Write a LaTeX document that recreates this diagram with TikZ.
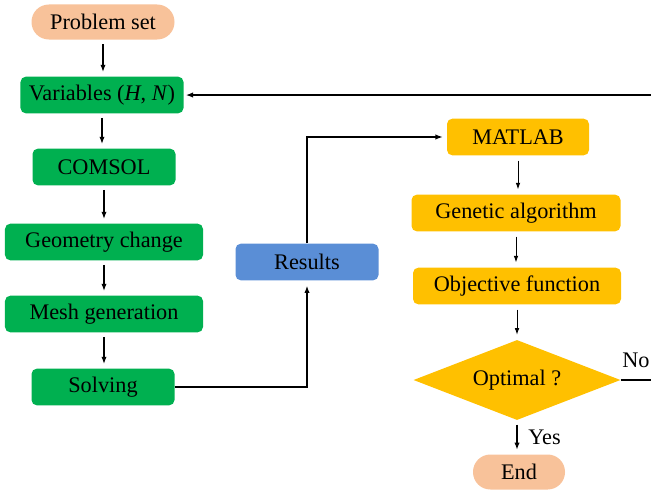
\documentclass[tikz,border=0pt]{standalone}
\usepackage{fontspec}
\setmainfont{Liberation Serif}
\usepackage{xcolor}
\usetikzlibrary{arrows.meta,positioning,calc,shapes.geometric}
\definecolor{peach}{HTML}{F8C29A}
\definecolor{leaf}{HTML}{00B050}
\definecolor{gold}{HTML}{FFC000}
\definecolor{sky}{HTML}{5A8ED6}
\tikzset{
  fx/.style={x=0.3mm, y=-0.3mm, font=\fontsize{19}{22}\selectfont},
  f box/.style={rounded corners=1.6mm, align=center, minimum height=11mm, inner sep=0.8mm},
  f end/.style={f box, fill=peach, rounded corners=5.2mm, minimum height=10.5mm},
  f step/.style={f box, fill=leaf},
  f res/.style={f box, fill=sky},
  f opt/.style={f box, fill=gold},
  f dec/.style={diamond, fill=gold, aspect=2.6, inner sep=0pt, minimum width=62.1mm, minimum height=24mm},
  f arr/.style={-{Latex[length=2.2mm, width=1.6mm]}, line width=1.2pt},
  f thin/.style={-{Latex[length=2mm, width=1.4mm]}, line width=0.8pt, shorten <=1.5mm, shorten >=1.5mm},
  f down/.style={f arr, shorten <=1.3mm, shorten >=1.3mm},
}
\begin{document}
\begin{tikzpicture}[fx]
\useasboundingbox (0,0) rectangle (651,490);
% left column
\node[f end, minimum width=42.9mm] (ps) at (103,22) {Problem set};
\node[f step, minimum width=48.9mm] (vr) at (102,95) {Variables (\textit{H}, \textit{N})};
\node[f step, minimum width=42.9mm] (cm) at (104,167) {COMSOL};
\node[f step, minimum width=59.4mm] (gc) at (104,242) {Geometry change};
\node[f step, minimum width=59.4mm] (mg) at (104,314) {Mesh generation};
\node[f step, minimum width=42.9mm] (sv) at (103,387) {Solving};
\node[f res, minimum width=42.9mm] (rs) at (307,262) {Results};
% right column
\node[f opt, minimum width=42.6mm] (ml) at (518,137) {MATLAB};
\node[f opt, minimum width=62.7mm] (ga) at (516,213) {Genetic algorithm};
\node[f opt, minimum width=62.4mm] (of) at (517,286) {Objective function};
\node[f dec] (op) at (517,380) {Optimal ?};
\node[f end, minimum width=27.6mm] (en) at (519,472) {End};
\coordinate (rt) at (660,95);
\draw[f down] (ps.south)--(ps.south|-vr.north); \draw[f down] (vr.south)--(vr.south|-cm.north);
\draw[f down] (cm.south)--(cm.south|-gc.north); \draw[f down] (gc.south)--(gc.south|-mg.north);
\draw[f down] (mg.south)--(mg.south|-sv.north);
\draw[f arr, shorten >=1.5mm] (sv.east) -| (rs.south);
\draw[f arr, shorten >=1.2mm] (rs.north) |- (ml.west);
\draw[f thin] (ml.south)--(ml.south|-ga.north); \draw[f thin] (ga.south)--(ga.south|-of.north);
\draw[f thin] (of.south)--(of.south|-op.north);
\draw[f down] (op.south)--(op.south|-en.north) node[midway, right=2mm] {Yes};
\draw[f arr, shorten >=0.6mm] (op.east) -| (rt) -- (vr.east);
\node (no) at (636,360) {No};
\end{tikzpicture}
\end{document}
